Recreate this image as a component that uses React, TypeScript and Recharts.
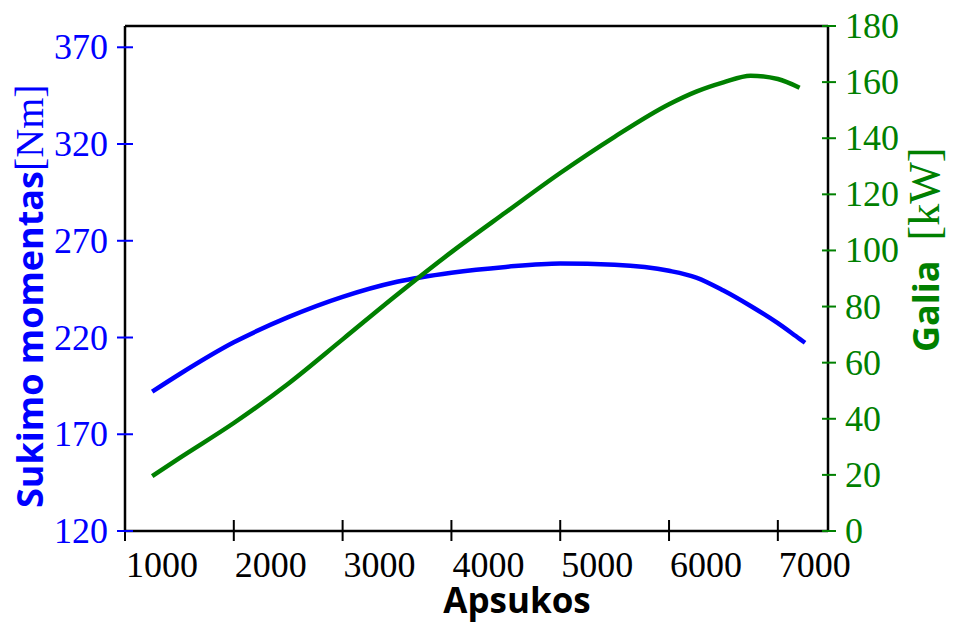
import { LineChart, Line, XAxis, YAxis, ReferenceLine, Label } from "recharts";

// engine curve
const rpm = [1250, 1500, 2000, 2500, 3000, 3500, 4000, 4500, 5000, 5500, 6000, 6250, 6500, 6750, 7000, 7200, 7250];
const torque = [192, 201, 217.5, 230.5, 241, 248.8, 253.5, 256.5, 258.3, 257.6, 254.5, 251, 244.3, 236.3, 227.4, 219.3, 217.3];
const power = [19.6, 26, 38.5, 52.5, 68.3, 84.2, 99.4, 113.6, 127.6, 140.5, 152.1, 156.6, 159.9, 162.3, 161.1, 158, null];

const rpmTicks = [1000, 2000, 3000, 4000, 5000, 6000, 7000];
const torqueTicks = [120, 170, 220, 270, 320, 370];
const powerTicks = [0, 20, 40, 60, 80, 100, 120, 140, 160, 180];

const BLUE = "#0000ff";
const GREEN = "#008000";
const SERIF = "'Liberation Serif', 'Times New Roman', serif";
const SANS = "'Open Sans', 'Noto Sans', sans-serif";

const data = rpm.map((r, i) => ({ rpm: r, torque: torque[i], power: power[i] }));

const XTick = ({ x, y, payload }: any) => (
  <g>
    <line x1={x} x2={x} y1={y - 11} y2={y + 10} stroke="#000" strokeWidth={2} />
    <text x={x + 1} y={y + 46} textAnchor="start" fontFamily={SERIF} fontSize={36} fill="#000">
      {payload.value}
    </text>
  </g>
);

const LeftTick = ({ x, y, payload }: any) => (
  <g>
    <line x1={x - 8} x2={x + 8} y1={y} y2={y} stroke={BLUE} strokeWidth={2} />
    <text x={x - 17} y={y + 12} textAnchor="end" fontFamily={SERIF} fontSize={36} fill={BLUE}>
      {payload.value}
    </text>
  </g>
);

const RightTick = ({ x, y, payload }: any) => (
  <g>
    <line x1={x - 6} x2={x + 8} y1={y} y2={y} stroke={GREEN} strokeWidth={2} />
    <text x={x + 17} y={y + 12} textAnchor="start" fontFamily={SERIF} fontSize={36} fill={GREEN}>
      {payload.value}
    </text>
  </g>
);

// rotated titles are anchored at their bottom end
const TorqueTitle = () => (
  <text x={43} y={508} transform="rotate(-90, 43, 508)" textAnchor="start" fill={BLUE}>
    <tspan fontFamily={SANS} fontWeight="bold" fontSize={36}>Sukimo momentas</tspan>
    <tspan fontFamily={SERIF} fontSize={40}>[Nm]</tspan>
  </text>
);

const PowerTitle = () => (
  <text x={939} y={352} transform="rotate(-90, 939, 352)" textAnchor="start" fill={GREEN}>
    <tspan fontFamily={SANS} fontWeight="bold" fontSize={36}>Galia</tspan>
    <tspan fontFamily={SERIF} fontSize={44} dx={20}>[kW]</tspan>
  </text>
);

const RpmTitle = () => (
  <text x={517} y={613} textAnchor="middle" fill="#000" fontFamily={SANS} fontWeight="bold" fontSize={35}>
    Apsukos
  </text>
);

export default function App() {
  return (
    <div style={{ position: "absolute", left: 0, top: 0, background: "#fff" }}>
      <LineChart width={959} height={631} data={data} margin={{ top: 26, right: 0, bottom: 0, left: 0 }}>
        <XAxis
          dataKey="rpm"
          type="number"
          domain={[1000, 7461]}
          ticks={rpmTicks}
          interval={0}
          height={100}
          tickSize={0}
          tickMargin={0}
          tickLine={false}
          axisLine={{ stroke: "#000", strokeWidth: 2.5 }}
          tick={<XTick />}
          allowDataOverflow
        >
          <Label content={<RpmTitle />} />
        </XAxis>
        <YAxis
          yAxisId="left"
          orientation="left"
          width={125}
          domain={[120, 381]}
          ticks={torqueTicks}
          interval={0}
          tickSize={0}
          tickMargin={0}
          tickLine={false}
          axisLine={{ stroke: "#000", strokeWidth: 2.5 }}
          tick={<LeftTick />}
          allowDataOverflow
        >
          <Label content={<TorqueTitle />} />
        </YAxis>
        <YAxis
          yAxisId="right"
          orientation="right"
          width={131}
          domain={[0, 180]}
          ticks={powerTicks}
          interval={0}
          tickSize={0}
          tickMargin={0}
          tickLine={false}
          axisLine={{ stroke: "#000", strokeWidth: 2.5 }}
          tick={<RightTick />}
          allowDataOverflow
        >
          <Label content={<PowerTitle />} />
        </YAxis>
        <ReferenceLine yAxisId="left" y={381} stroke="#000" strokeWidth={2.5} />
        <Line
          yAxisId="left"
          type="monotone"
          dataKey="torque"
          stroke={BLUE}
          strokeWidth={4.5}
          dot={false}
          connectNulls
          isAnimationActive={false}
        />
        <Line
          yAxisId="right"
          type="monotone"
          dataKey="power"
          stroke={GREEN}
          strokeWidth={4.5}
          dot={false}
          connectNulls={false}
          isAnimationActive={false}
        />
      </LineChart>
    </div>
  );
}
